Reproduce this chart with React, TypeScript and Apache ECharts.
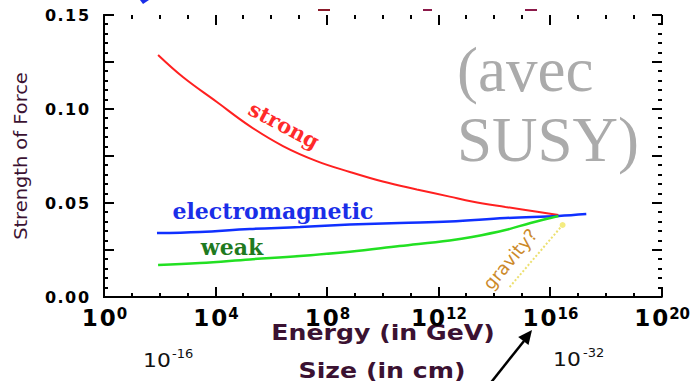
import React, { useEffect, useRef } from "react";
import * as echarts from "echarts";

// x values are log10(Energy / GeV)
const xTickExponents = [0, 4, 8, 12, 16, 20];
const xMinorStep = 1;
const yTickLabels = ["0.00", "0.05", "0.10", "0.15"];
const yMajorStep = 0.025;
const yMinorStep = 0.005;

const strongLogE = [1.94, 2.83, 4.05, 5.23, 6.42, 7.63, 8.82, 10.0, 11.22, 12.4, 13.2, 14.4, 15.6, 16.3];
const strongValue = [0.1287, 0.117, 0.1037, 0.0909, 0.0803, 0.0723, 0.0665, 0.0614, 0.0572, 0.0534, 0.0508, 0.0479, 0.0452, 0.0436];

const emLogE = [1.9, 3.44, 5.23, 7.03, 8.82, 10.6, 12.4, 14.4, 16.3, 17.3];
const emValue = [0.034, 0.0346, 0.0362, 0.0372, 0.0385, 0.0394, 0.0401, 0.042, 0.0431, 0.0441];

const weakLogE = [1.94, 3.44, 5.23, 7.03, 8.82, 10.6, 12.4, 13.2, 14.4, 15.3, 16.3];
const weakValue = [0.017, 0.0181, 0.02, 0.0218, 0.0241, 0.0271, 0.0301, 0.0319, 0.0356, 0.0394, 0.0431];

const gravityLogE = [14.55, 16.45];
const gravityValue = [0.0053, 0.0383];

const sizeExponents = ["-16", "-32"];

const pairs = (xs: number[], ys: number[]) => xs.map((x, i) => [x, ys[i]]);

const AXIS_COLOR = "#000";
const TITLE_COLOR = "#3b1232";
const deg = (d: number) => (d * Math.PI) / 180;

const X_MIN = xTickExponents[0];
const X_MAX = xTickExponents[xTickExponents.length - 1];
const X_STEP = xTickExponents[1] - xTickExponents[0];
const Y_MAX = Number(yTickLabels[yTickLabels.length - 1]);

const isMultiple = (v: number, step: number) => Math.abs(v / step - Math.round(v / step)) < 1e-6;

const xRich = {
  b: { fontFamily: "DejaVu Sans", fontWeight: "bold", fontSize: 23, width: 18, align: "center", color: "#000", lineHeight: 24 },
  s: { fontFamily: "DejaVu Sans", fontWeight: "bold", fontSize: 15, verticalAlign: "top", color: "#000", lineHeight: 15 },
};
const yRich = {
  d: { fontFamily: "DejaVu Sans", fontWeight: "bold", fontSize: 16, width: 13, align: "center", color: "#000" },
  p: { fontFamily: "DejaVu Sans", fontWeight: "bold", fontSize: 16, width: 7, align: "center", color: "#000" },
};

function baseXAxis(position: "top" | "bottom", showLabel: boolean) {
  return {
    type: "value",
    min: X_MIN,
    max: X_MAX,
    interval: X_STEP,
    position,
    axisLine: { show: true, lineStyle: { color: AXIS_COLOR, width: 2 } },
    axisTick: { show: false },
    minorTick: { show: false },
    splitLine: { show: false },
    axisLabel: {
      show: showLabel,
      margin: 9,
      formatter: (v: number) => `{b|1}{b|0}{s|${v}}`,
      rich: xRich,
    },
  };
}

function baseYAxis(position: "left" | "right", showLabel: boolean) {
  return {
    type: "value",
    min: 0,
    max: Y_MAX,
    interval: yMajorStep,
    position,
    axisLine: { show: true, lineStyle: { color: AXIS_COLOR, width: 2 } },
    axisTick: { show: false },
    minorTick: { show: false },
    splitLine: { show: false },
    axisLabel: {
      show: showLabel,
      margin: 14,
      formatter: (v: number) => {
        const s = v.toFixed(2);
        if (!yTickLabels.includes(s)) return "";
        return s
          .split("")
          .map((c) => (c === "." ? "{p|.}" : `{d|${c}}`))
          .join("");
      },
      rich: yRich,
    },
  };
}

export default function App() {
  const ref = useRef<HTMLDivElement>(null);

  useEffect(() => {
    if (!ref.current) return;
    const chart = echarts.init(ref.current, null, { renderer: "svg" });

    const tenStyle = { fontFamily: "DejaVu Sans", fontSize: 19, fill: "#111", align: "left", verticalAlign: "bottom" };
    const expStyle = { fontFamily: "DejaVu Sans", fontSize: 13, fill: "#111", align: "left", verticalAlign: "top" };

    chart.setOption({
      animation: false,
      backgroundColor: "#fff",
      grid: { left: 104, right: 31, top: 15, bottom: 84, containLabel: false },
      xAxis: [baseXAxis("bottom", true), baseXAxis("top", false)],
      yAxis: [baseYAxis("left", true), baseYAxis("right", false)],
      series: [
        {
          name: "strong",
          type: "line",
          data: pairs(strongLogE, strongValue),
          smooth: 0.4,
          showSymbol: false,
          lineStyle: { color: "#ff2020", width: 2 },
        },
        {
          name: "electromagnetic",
          type: "line",
          data: pairs(emLogE, emValue),
          smooth: 0.4,
          showSymbol: false,
          lineStyle: { color: "#1030ff", width: 2.5 },
        },
        {
          name: "weak",
          type: "line",
          data: pairs(weakLogE, weakValue),
          smooth: 0.4,
          showSymbol: false,
          lineStyle: { color: "#22e022", width: 2.5 },
        },
        {
          name: "gravity",
          type: "line",
          data: [
            { value: [gravityLogE[0], gravityValue[0]], symbol: "none" },
            { value: [gravityLogE[1], gravityValue[1]], symbol: "circle", symbolSize: 6 },
          ],
          showSymbol: true,
          itemStyle: { color: "#f4ec80", borderWidth: 0 },
          lineStyle: { color: "#ece070", width: 2, type: "dotted" },
        },
      ],
    });

    // tick marks on all four frame sides, positioned through the axes' scales
    const px = (v: number) => Math.round(Number(chart.convertToPixel({ xAxisIndex: 0 }, v)));
    const py = (v: number) => Math.round(Number(chart.convertToPixel({ yAxisIndex: 0 }, v)));
    const left = px(X_MIN);
    const right = px(X_MAX);
    const top = py(Y_MAX);
    const bottom = py(0);
    const W = 2;
    const tickEls: any[] = [];
    const nx = Math.round((X_MAX - X_MIN) / xMinorStep);
    for (let i = 0; i <= nx; i++) {
      const v = X_MIN + i * xMinorStep;
      const len = isMultiple(v, X_STEP) ? 10 : 4;
      const x = px(v);
      tickEls.push(
        { type: "rect", silent: true, z: 100, shape: { x: x - 1, y: bottom - len, width: W, height: len }, style: { fill: AXIS_COLOR } },
        { type: "rect", silent: true, z: 100, shape: { x: x - 1, y: top, width: W, height: len }, style: { fill: AXIS_COLOR } }
      );
    }
    const ny = Math.round(Y_MAX / yMinorStep);
    for (let i = 0; i <= ny; i++) {
      const v = i * yMinorStep;
      const len = isMultiple(v, yMajorStep) ? 10 : 4;
      const y = py(v);
      tickEls.push(
        { type: "rect", silent: true, z: 100, shape: { x: left, y: y - 1, width: len, height: W }, style: { fill: AXIS_COLOR } },
        { type: "rect", silent: true, z: 100, shape: { x: right - len, y: y - 1, width: len, height: W }, style: { fill: AXIS_COLOR } }
      );
    }

    chart.setOption({
      graphic: [
        ...tickEls,
        {
          type: "text",
          x: 21,
          y: 156,
          rotation: deg(90),
          scaleX: 1.08,
          style: { text: "Strength of Force", fontFamily: "DejaVu Sans", fontSize: 18, fill: TITLE_COLOR, align: "center", verticalAlign: "middle" },
        },
        {
          type: "text",
          x: 383,
          y: 332,
          scaleX: 1.2,
          style: { text: "Energy (in GeV)", fontFamily: "DejaVu Sans", fontWeight: "bold", fontSize: 21, fill: TITLE_COLOR, align: "center", verticalAlign: "middle" },
        },
        {
          type: "text",
          x: 382,
          y: 370,
          scaleX: 1.2,
          style: { text: "Size (in cm)", fontFamily: "DejaVu Sans", fontWeight: "bold", fontSize: 21, fill: TITLE_COLOR, align: "center", verticalAlign: "middle" },
        },
        { type: "text", x: 143, y: 370, scaleX: 1.15, style: { ...tenStyle, text: "10" } },
        { type: "text", x: 172, y: 347, style: { ...expStyle, text: sizeExponents[0] } },
        { type: "text", x: 553, y: 369, scaleX: 1.15, style: { ...tenStyle, text: "10" } },
        { type: "text", x: 583, y: 346, style: { ...expStyle, text: sizeExponents[1] } },
        {
          type: "text",
          x: 457,
          y: 70,
          style: { text: "(avec", fontFamily: "Liberation Serif", fontSize: 63, fill: "#ababab", align: "left", verticalAlign: "middle" },
        },
        {
          type: "text",
          x: 457,
          y: 140,
          style: { text: "SUSY)", fontFamily: "Liberation Serif", fontSize: 63, fill: "#ababab", align: "left", verticalAlign: "middle" },
        },
        {
          type: "text",
          x: 284,
          y: 125,
          rotation: deg(-28),
          style: { text: "strong", fontFamily: "DejaVu Serif", fontWeight: "bold", fontSize: 21, fill: "#ff2a2a", align: "center", verticalAlign: "middle" },
        },
        {
          type: "text",
          x: 273,
          y: 211,
          style: { text: "electromagnetic", fontFamily: "DejaVu Serif", fontWeight: "bold", fontSize: 22, fill: "#1a2ee8", align: "center", verticalAlign: "middle" },
        },
        {
          type: "text",
          x: 232,
          y: 247,
          style: { text: "weak", fontFamily: "DejaVu Serif", fontWeight: "bold", fontSize: 22, fill: "#1f7a1f", align: "center", verticalAlign: "middle" },
        },
        {
          type: "text",
          x: 510,
          y: 259,
          rotation: deg(50),
          style: { text: "gravity?", fontFamily: "DejaVu Sans", fontSize: 18, fill: "#cc8a2a", align: "center", verticalAlign: "middle" },
        },
        {
          type: "line",
          shape: { x1: 489, y1: 385, x2: 524, y2: 341 },
          style: { stroke: "#000", lineWidth: 2.5 },
        },
        {
          type: "polygon",
          shape: { points: [[532, 330], [528.5, 345], [518.2, 337]] },
          style: { fill: "#000" },
        },
        {
          type: "polygon",
          shape: { points: [[140, 0], [149, 0], [143, 4]] },
          style: { fill: "#1a2ee8" },
        },
        { type: "rect", shape: { x: 318, y: 9, width: 12, height: 2 }, style: { fill: "#8b1a2a" } },
        { type: "rect", shape: { x: 423, y: 9, width: 9, height: 2 }, style: { fill: "#8b1a4a" } },
        { type: "rect", shape: { x: 525, y: 9, width: 12, height: 2 }, style: { fill: "#8b1a4a" } },
      ],
    });

    return () => chart.dispose();
  }, []);

  return (
    <div
      ref={ref}
      style={{ position: "fixed", left: 0, top: 0, width: 693, height: 381, background: "#fff" }}
    />
  );
}
